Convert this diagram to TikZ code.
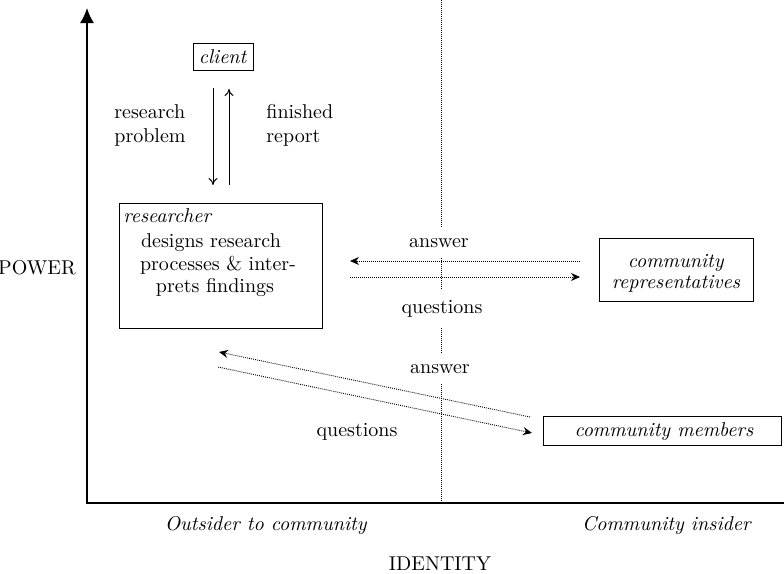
\documentclass[tikz,border=0pt]{standalone}
\usepackage{fontspec}
\usetikzlibrary{arrows.meta}
\begin{document}
\begin{tikzpicture}[x=0.5pt,y=-0.5pt,
  box/.style={draw,line width=0.5pt,inner sep=0pt},
  lbl/.style={anchor=base,inner sep=0pt},
  dotl/.style={line width=0.45pt,dash pattern=on 0.45pt off 0.55pt},
  solidarrow/.style={line width=0.5pt,-{To[length=3.5pt,width=4.5pt]}},
  dotarrow/.style={dotl,-{Stealth[length=4.5pt,width=4pt,inset=1.5pt]}},
  cover/.style={anchor=base,fill=white,inner xsep=1pt,inner ysep=5pt}]
\useasboundingbox (0,0) rectangle (784,574);
% axes and divider
\coordinate (origin) at (87,503);
\coordinate (ytop) at (87,8);
\coordinate (xend) at (784,503);
\coordinate (divtop) at (441,0);
\coordinate (divbot) at (441,503);
\draw[dotl] (divtop) -- (divbot);
\draw[line width=0.8pt,-{Latex[length=7.5pt,width=7pt]}] (xend) -- (origin) -- (ytop);
% boxes
\node[box,minimum width=30pt,minimum height=13.5pt] (client) at (223,56.5) {\textit{client}};
\node[box,minimum width=101.5pt,minimum height=62.5pt] (researcher) at (220.5,265.5) {};
\node[lbl,anchor=base west] (rtitle) at (123,222) {\textit{researcher}};
\node[lbl] (r1) at (211,247) {designs research};
\node[lbl] (r2) at (218,270) {processes \& inter-};
\node[lbl] (r3) at (215,292) {prets findings};
\node[box,minimum width=77pt,minimum height=31.5pt] (reps) at (676,269.5) {};
\node[lbl] (reps1) at (676,267) {\textit{community}};
\node[lbl] (reps2) at (676,288) {\textit{representatives}};
\node[box,minimum width=119pt,minimum height=14.5pt] (members) at (662,430.5) {};
\node[lbl] (members1) at (664,436) {\textit{community members}};
% client <-> researcher
\coordinate (downtop) at (213,88);
\coordinate (downbot) at (213,185);
\coordinate (uptop) at (229,89);
\coordinate (upbot) at (229,185);
\draw[solidarrow] (downtop) -- (downbot);
\draw[solidarrow] (upbot) -- (uptop);
\node[lbl,anchor=base west] (rp1) at (114,118) {research};
\node[lbl,anchor=base west] (rp2) at (114,142) {problem};
\node[lbl,anchor=base west] (fr1) at (266,118) {finished};
\node[lbl,anchor=base west] (fr2) at (266,142) {report};
% researcher <-> representatives
\coordinate (ansR) at (580,261);
\coordinate (ansL) at (350,261);
\coordinate (qL) at (350,277);
\coordinate (qR) at (580,277);
\draw[dotarrow] (ansR) -- (ansL);
\draw[dotarrow] (qL) -- (qR);
\node[cover] (ans1) at (439,247) {answer};
\node[cover] (q1) at (442,313) {questions};
% researcher <-> members
\coordinate (ans2s) at (530,417);
\coordinate (ans2e) at (219,352);
\coordinate (q2s) at (218,367);
\coordinate (q2e) at (532,433);
\draw[dotarrow] (ans2s) -- (ans2e);
\draw[dotarrow] (q2s) -- (q2e);
\node[cover] (ans2) at (440,373) {answer};
\node[cover] (q2) at (357,436) {questions};
% axis labels
\node[lbl] (power) at (37,274) {POWER};
\node[lbl] (identity) at (440,570) {IDENTITY};
\node[lbl] (outsider) at (266,530) {\textit{Outsider to community}};
\node[lbl] (insider) at (667,530) {\textit{Community insider}};
\end{tikzpicture}
\end{document}
